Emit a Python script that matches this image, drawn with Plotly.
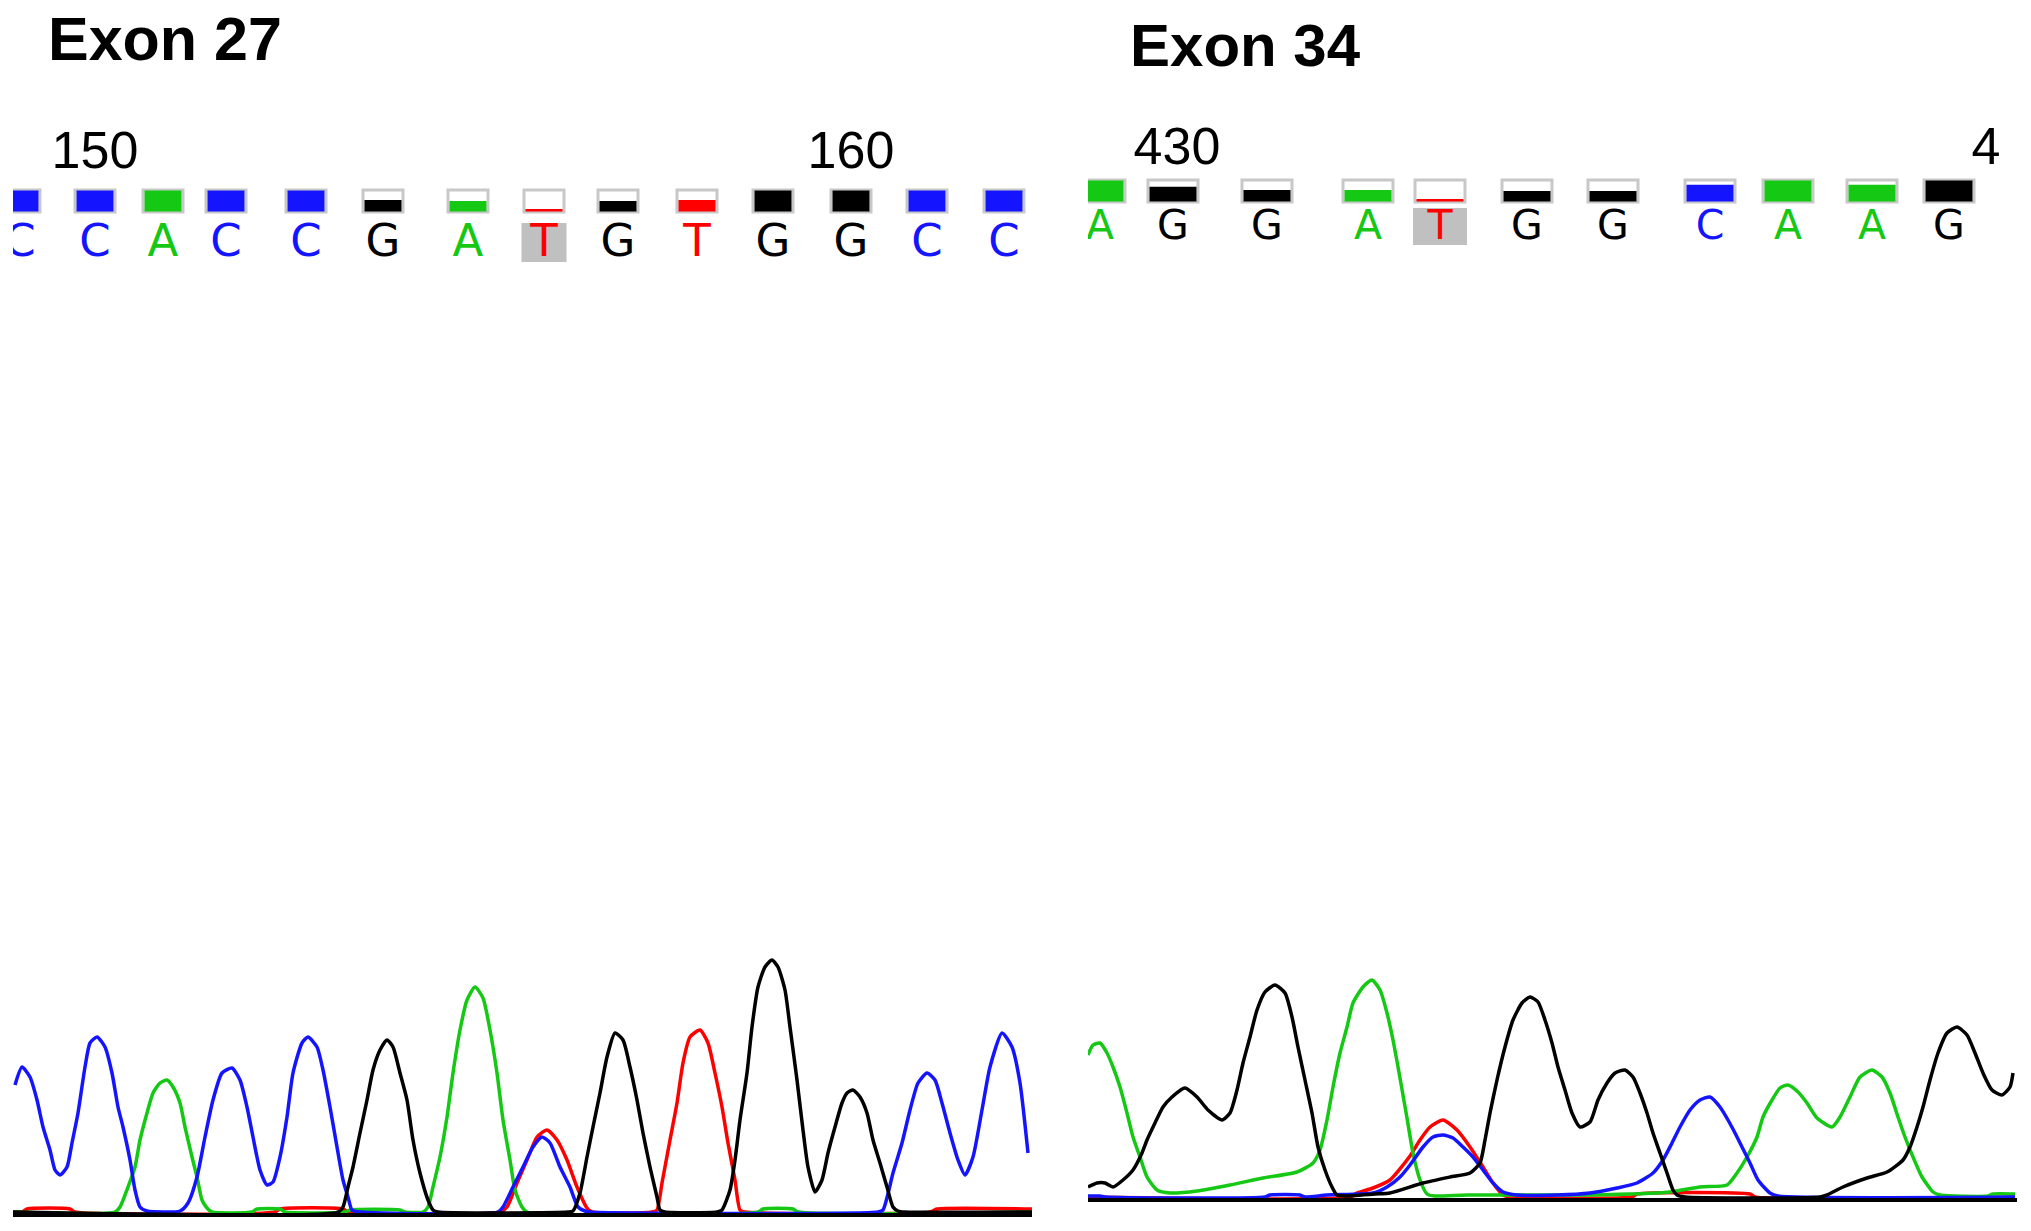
import plotly.graph_objects as go

# ---- base calls (header rows) ----
left_calls = "CCACCGATGTGGCC"
left_pos = [20, 95, 163, 226, 306, 383, 468, 544, 618, 697, 773, 851, 927, 1004]
left_qual = [1, 1, 1, 1, 1, 0.55, 0.5, 0.12, 0.5, 0.55, 1, 1, 1, 1]
left_ruler_pos = [95, 851]
left_ruler_text = ["150", "160"]
left_mut_pos = [544]

right_calls = "AGGATGGCAAG"
right_pos = [1100, 1173, 1267, 1368, 1440, 1527, 1613, 1710, 1788, 1872, 1949]
right_qual = [1, 0.7, 0.55, 0.55, 0.12, 0.5, 0.5, 0.8, 1, 0.8, 1]
right_ruler_pos = [1177, 1986]
right_ruler_text = ["430", "4"]   # "440" is cut at the panel edge in the original
right_mut_pos = [1440]

# ---- chromatogram traces, exon 27 (scan position, signal) ----
l_blue_x = [15, 22, 30, 37, 43, 50, 55, 60, 67, 72, 78, 85, 90, 97, 105, 112, 118, 123, 130, 135, 140, 147,
            180, 188, 197, 205, 213, 222, 232, 240, 247, 253, 260, 267, 273, 280, 287, 293, 302, 308, 317,
            323, 330, 337, 343, 348, 352, 360, 498, 503, 513, 523, 533, 542, 550, 560, 570, 578, 585, 590,
            878, 883, 893, 902, 910, 918, 927, 935, 942, 950, 958, 965, 973, 982, 990, 1002, 1012, 1020, 1028]
l_blue_y = [128, 146, 136, 113, 86, 63, 43, 38, 46, 70, 100, 146, 170, 176, 166, 140, 106, 86, 53, 23, 6, 2,
            2, 10, 36, 76, 113, 140, 145, 133, 106, 76, 43, 28, 31, 56, 96, 140, 170, 176, 166,
            143, 106, 66, 33, 16, 3, 1, 1, 6, 26, 46, 66, 76, 70, 46, 26, 6, 2, 1,
            1, 3, 40, 70, 103, 130, 140, 133, 110, 80, 53, 38, 56, 103, 146, 180, 166, 130, 60]

l_green_x = [13, 115, 120, 128, 135, 140, 147, 153, 160, 167, 173, 180, 185, 192, 197, 202, 207, 212,
             252, 257, 280, 285, 345, 350, 400, 405, 423, 428, 433, 440, 447, 453, 460, 467, 475, 483,
             490, 497, 503, 510, 515, 522, 527, 758, 763, 793, 798, 1032]
l_green_y = [1, 1, 6, 26, 46, 73, 100, 120, 130, 133, 126, 110, 86, 56, 36, 13, 5, 1,
             1, 4, 4, 1, 1, 3, 3, 1, 1, 6, 26, 56, 96, 140, 183, 213, 226, 215,
             183, 140, 93, 53, 23, 6, 1, 1, 4, 4, 1, 1]

l_black_x = [13, 338, 343, 348, 353, 360, 367, 373, 380, 387, 393, 400, 407, 413, 420, 428, 433, 438,
             568, 573, 580, 587, 593, 600, 607, 615, 623, 630, 637, 643, 650, 657, 660, 665,
             717, 722, 730, 735, 740, 747, 752, 758, 765, 772, 778, 785, 790, 797, 803, 808, 815,
             822, 828, 835, 842, 847, 853, 860, 867, 873, 880, 887, 893, 898, 905, 1032]
l_black_y = [1, 1, 6, 26, 46, 80, 113, 143, 163, 173, 166, 140, 113, 73, 40, 13, 3, 1,
             1, 2, 20, 56, 86, 120, 156, 180, 173, 146, 113, 80, 46, 16, 3, 1,
             1, 3, 23, 53, 93, 140, 186, 226, 246, 253, 246, 223, 186, 133, 83, 46, 21,
             33, 60, 86, 110, 120, 123, 116, 100, 73, 50, 26, 6, 2, 1, 1]

l_red_x = [13, 22, 27, 70, 75, 275, 280, 343, 348, 500, 507, 517, 527, 537, 547, 557, 567, 577, 587, 592,
           652, 657, 662, 670, 677, 683, 690, 700, 708, 715, 722, 728, 735, 740, 745, 930, 937, 1032]
l_red_y = [1, 1, 4, 4, 1, 1, 4, 4, 1, 1, 6, 30, 53, 76, 83, 73, 53, 26, 5, 1,
           1, 3, 30, 73, 110, 150, 176, 183, 170, 140, 106, 70, 33, 3, 1, 1, 4, 4]

# ---- chromatogram traces, exon 34 ----
r_green_x = [1088, 1093, 1100, 1107, 1113, 1120, 1127, 1133, 1140, 1147, 1157, 1170, 1197, 1230, 1263, 1297,
             1313, 1320, 1327, 1333, 1340, 1347, 1353, 1363, 1372, 1380, 1387, 1393, 1400, 1407, 1413,
             1420, 1427, 1435, 1467, 1590, 1670, 1700, 1727, 1737, 1747, 1757, 1763, 1772, 1780, 1788,
             1798, 1807, 1817, 1832, 1840, 1850, 1860, 1872, 1882, 1890, 1898, 1905, 1913, 1922, 1933,
             1940, 1988, 1993, 2015]
r_green_y = [143, 153, 155, 145, 131, 111, 85, 61, 41, 21, 8, 5, 7, 13, 20, 26,
             35, 48, 78, 111, 145, 171, 195, 211, 218, 208, 185, 158, 120, 80, 45,
             18, 4, 2, 3, 3, 6, 11, 13, 25, 41, 61, 81, 98, 110, 113,
             106, 95, 80, 71, 81, 101, 121, 128, 121, 105, 81, 61, 41, 21, 6,
             3, 2, 4, 4]

r_black_x = [1088, 1097, 1105, 1113, 1123, 1133, 1142, 1147, 1155, 1163, 1172, 1185, 1197, 1208, 1222,
             1230, 1237, 1243, 1250, 1257, 1265, 1275, 1285, 1292, 1298, 1305, 1312, 1318, 1325, 1332,
             1337, 1345, 1375, 1390, 1423, 1450, 1470, 1480, 1485, 1490, 1497, 1505, 1513, 1522, 1530,
             1538, 1545, 1552, 1558, 1565, 1572, 1580, 1590, 1598, 1607, 1615, 1625, 1633, 1640, 1647,
             1653, 1660, 1667, 1673, 1677, 1685, 1820, 1827, 1843, 1867, 1887, 1903, 1910, 1917, 1923,
             1930, 1938, 1947, 1957, 1967, 1975, 1983, 1992, 2002, 2010, 2013]
r_black_y = [11, 15, 15, 11, 18, 28, 45, 58, 75, 91, 101, 110, 101, 88, 78,
             85, 108, 135, 161, 188, 206, 213, 205, 181, 151, 118, 85, 51, 28, 11,
             3, 2, 4, 5, 15, 21, 25, 35, 58, 85, 118, 151, 178, 195, 201,
             196, 178, 155, 131, 108, 85, 71, 76, 98, 115, 125, 128, 121, 105, 85,
             65, 45, 25, 8, 3, 1, 1, 3, 11, 20, 26, 38, 51, 71, 91,
             118, 145, 165, 171, 163, 145, 125, 108, 103, 111, 125]

r_blue_x = [1088, 1100, 1105, 1265, 1270, 1300, 1305, 1327, 1373, 1387, 1400, 1410, 1423, 1433, 1443,
            1453, 1463, 1473, 1483, 1493, 1503, 1517, 1557, 1590, 1617, 1637, 1653, 1663, 1672, 1680,
            1690, 1700, 1710, 1720, 1728, 1735, 1742, 1750, 1758, 1770, 1778, 2015]
r_blue_y = [2, 2, 1, 1, 3, 3, 1, 3, 5, 11, 21, 33, 51, 61, 63,
            60, 51, 41, 28, 15, 6, 3, 3, 5, 10, 15, 25, 38, 55, 71,
            88, 98, 101, 91, 78, 65, 51, 35, 18, 5, 2, 1]

r_red_x = [1088, 1350, 1357, 1373, 1390, 1410, 1420, 1430, 1443, 1457, 1470, 1483, 1493, 1503, 1510,
           1632, 1637, 1750, 1755, 2015]
r_red_y = [1, 1, 5, 10, 18, 42, 58, 71, 78, 68, 51, 31, 15, 3, 1,
           1, 4, 4, 1, 1]

BASE_COLORS = {"A": "#14c814", "C": "#1414ff", "G": "#000000", "T": "#ff0000"}
W, H = 2031, 1231


def py(px):
    # page pixel row -> paper fraction
    return 1 - px / H


fig = go.Figure()

trace_sets = [
    ("x", "y", [(l_red_x, l_red_y, "T"), (l_green_x, l_green_y, "A"),
                (l_blue_x, l_blue_y, "C"), (l_black_x, l_black_y, "G")]),
    ("x2", "y2", [(r_red_x, r_red_y, "T"), (r_green_x, r_green_y, "A"),
                  (r_blue_x, r_blue_y, "C"), (r_black_x, r_black_y, "G")]),
]
for xa, ya, traces in trace_sets:
    for xs, ys, base in traces:
        fig.add_trace(go.Scatter(x=xs, y=ys, mode="lines", xaxis=xa, yaxis=ya,
                                 line=dict(color=BASE_COLORS[base], width=3.5, shape="spline", smoothing=0.6),
                                 hoverinfo="skip", showlegend=False))

# header rows: quality boxes, highlight, letters, ruler numbers
headers = [
    dict(xa="x", ya="y3", calls=left_calls, pos=left_pos, qual=left_qual, mut=left_mut_pos,
         rpos=left_ruler_pos, rtext=left_ruler_text, box_w=40, box_b=58, box_h=22,
         hl_w=45, hl_b=8, hl_h=39, let_y=25, let_size=45, num_y=115.5),
    dict(xa="x2", ya="y4", calls=right_calls, pos=right_pos, qual=right_qual, mut=right_mut_pos,
         rpos=right_ruler_pos, rtext=right_ruler_text, box_w=50, box_b=68, box_h=22,
         hl_w=54, hl_b=25, hl_h=37, let_y=41, let_size=41, num_y=119),
]
for h in headers:
    colors = [BASE_COLORS[c] for c in h["calls"]]
    fig.add_trace(go.Bar(x=h["pos"], y=[h["box_h"]] * len(h["pos"]), base=h["box_b"], width=h["box_w"],
                         marker=dict(color="white", line=dict(color="#c8c8c8", width=3)),
                         xaxis=h["xa"], yaxis=h["ya"], hoverinfo="skip", showlegend=False))
    fig.add_trace(go.Bar(x=h["pos"], y=[q * (h["box_h"] - 1) for q in h["qual"]], base=h["box_b"] + 0.5,
                         width=h["box_w"] - 3, marker=dict(color=colors, line=dict(width=0)),
                         xaxis=h["xa"], yaxis=h["ya"], hoverinfo="skip", showlegend=False))
    fig.add_trace(go.Bar(x=h["mut"], y=[h["hl_h"]] * len(h["mut"]), base=h["hl_b"], width=h["hl_w"],
                         marker=dict(color="#c0c0c0", line=dict(width=0)),
                         xaxis=h["xa"], yaxis=h["ya"], hoverinfo="skip", showlegend=False))
    fig.add_trace(go.Scatter(x=h["pos"], y=[h["let_y"]] * len(h["pos"]), mode="text", text=list(h["calls"]),
                             textposition="middle center",
                             textfont=dict(family="DejaVu Sans", size=h["let_size"], color=colors),
                             xaxis=h["xa"], yaxis=h["ya"], hoverinfo="skip", showlegend=False))
    fig.add_trace(go.Scatter(x=h["rpos"], y=[h["num_y"]] * len(h["rpos"]), mode="text", text=h["rtext"],
                             textposition="middle center",
                             textfont=dict(family="Liberation Sans", size=52, color="black"),
                             xaxis=h["xa"], yaxis=h["ya"], hoverinfo="skip", showlegend=False))

hidden = dict(visible=False, showgrid=False, zeroline=False, fixedrange=True)
base_axis = dict(showline=True, linecolor="black", linewidth=4, showticklabels=False, ticks="",
                 showgrid=False, zeroline=False, fixedrange=True)

fig.update_layout(
    width=W, height=H,
    margin=dict(l=0, r=0, t=0, b=0),
    paper_bgcolor="white", plot_bgcolor="white",
    barmode="overlay",
    xaxis=dict(base_axis, domain=[13 / W, 1032 / W], range=[13, 1032], anchor="y"),
    xaxis2=dict(base_axis, domain=[1088 / W, 2017 / W], range=[1088, 2017], anchor="y2"),
    yaxis=dict(hidden, domain=[py(1213), py(953)], range=[0, 260], anchor="x"),
    yaxis2=dict(hidden, domain=[py(1198), py(938)], range=[0, 260], anchor="x2"),
    yaxis3=dict(hidden, domain=[py(270), py(120)], range=[0, 150], anchor="x"),
    yaxis4=dict(hidden, domain=[py(270), py(120)], range=[0, 150], anchor="x2"),
    annotations=[
        dict(text="<b>Exon 27</b>", x=46 / W, y=py(39), xref="paper", yref="paper",
             xanchor="left", yanchor="middle", showarrow=False,
             font=dict(family="Liberation Sans", size=61, color="black")),
        dict(text="<b>Exon 34</b>", x=1128 / W, y=py(45), xref="paper", yref="paper",
             xanchor="left", yanchor="middle", showarrow=False,
             font=dict(family="Liberation Sans", size=60, color="black")),
    ],
)

fig.write_html("out.html", config={"displayModeBar": False},
               post_script="document.body.style.margin='0px';")
